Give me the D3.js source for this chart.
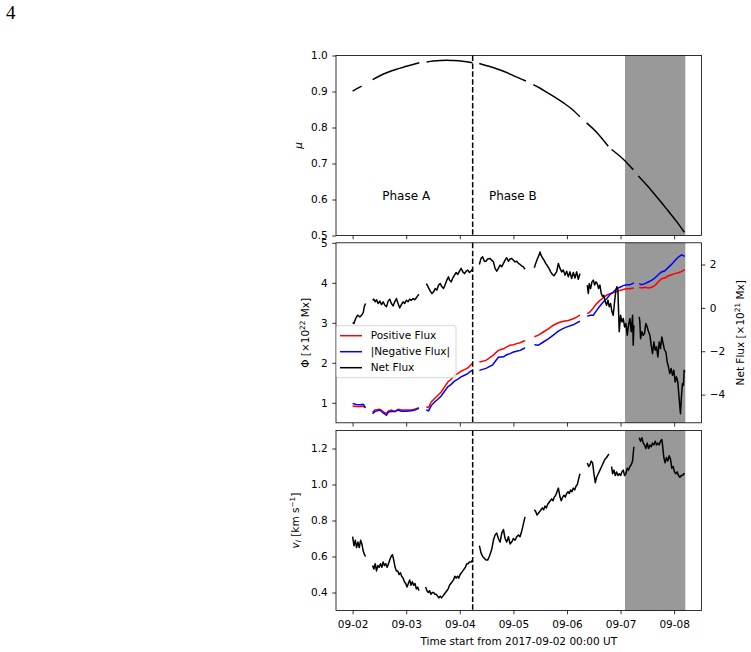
<!DOCTYPE html>
<html><head><meta charset="utf-8">
<script src="https://cdn.jsdelivr.net/npm/d3@7"></script>
<style>
body{margin:0;background:#fff}
svg{display:block}
text{font-family:"DejaVu Sans",sans-serif;fill:#000}
</style>
</head><body>
<svg id="c" width="751" height="652"></svg>
<script>
// ---------------- DATA ----------------
const xTicks = [0, 1, 2, 3, 4, 5, 6];
const xTickLabels = ["09-02", "09-03", "09-04", "09-05", "09-06", "09-07", "09-08"];
const xLabel = "Time start from 2017-09-02 00:00 UT";
const muTicks = [0.5, 0.6, 0.7, 0.8, 0.9, 1.0];
const fluxTicks = [1, 2, 3, 4, 5];
const netTicks = [-4, -2, 0, 2];
const vTicks = [0.4, 0.6, 0.8, 1.0, 1.2];
const phaseLabels = ["Phase A", "Phase B"];
const phaseT = [1.0, 2.99];
const phaseMu = 0.61;
const phaseSplit = 2.24;
const spanT = [5.083, 6.208];
const legendLabels = ["Positive Flux", "|Negative Flux|", "Net Flux"];

// mu (days since 2017-09-02 00:00)
const muT = [0, 0.08, 0.168, null, 0.373, 0.5, 0.634, 0.82, 1.007, 1.244, null,
  1.381, 1.5, 1.629, 1.75, 1.878, 2.05, 2.238, null,
  2.363, 2.52, 2.687, 2.85, 2.998, 3.234, null,
  3.371, 3.5, 3.62, 3.78, 3.93, 4.1, 4.241, null,
  4.366, 4.552, 4.77, null, 4.832, 5.05, 5.236, null,
  5.33, 5.47, 5.61, 5.75, 5.89, 6.04, 6.19];
const muV = [0.901, 0.908, 0.915, null, 0.933, 0.943, 0.952, 0.962, 0.970, 0.980, null,
  0.982, 0.985, 0.986, 0.987, 0.986, 0.984, 0.980, null,
  0.978, 0.971, 0.963, 0.954, 0.944, 0.929, null,
  0.919, 0.909, 0.898, 0.884, 0.869, 0.850, 0.830, null,
  0.813, 0.787, 0.748, null, 0.739, 0.712, 0.683, null,
  0.665, 0.643, 0.619, 0.594, 0.568, 0.540, 0.509];

// Positive / |negative| flux (x 10^22 Mx)
const fluxT = [0, 0.07, 0.14, 0.2, 0.24, null,
  0.372, 0.415, 0.508, 0.57, 0.632, 0.663, 0.724, 0.786, 0.848, 0.91, 1.003, 1.096, 1.158, 1.238, null,
  1.375, 1.418, 1.467, 1.529, 1.591, 1.653, 1.715, 1.777, 1.839, 1.901, 1.963, 2.025, 2.087, 2.149, 2.18, 2.229, null,
  2.365, 2.489, 2.613, 2.72, 2.814, 2.876, 2.938, 3.0, 3.062, 3.124, 3.186, 3.217, null,
  3.391, 3.466, 3.559, 3.652, 3.745, 3.839, 3.932, 4.025, 4.118, 4.18, 4.242, null,
  4.379, 4.429, 4.491, 4.553, 4.615, 4.677, 4.739, 4.801, 4.863, 4.925, 4.988, 5.05, 5.112, 5.174, 5.248, null,
  5.348, 5.391, 5.453, 5.516, 5.578, 5.64, 5.702, 5.764, 5.826, 5.888, 5.95, 6.012, 6.075, 6.137, 6.199];
const posFlux = [0.92, 0.91, 0.91, 0.91, 0.87, null,
  0.76, 0.82, 0.84, 0.78, 0.73, 0.79, 0.82, 0.78, 0.84, 0.82, 0.82, 0.82, 0.84, 0.88, null,
  0.9, 0.88, 1.02, 1.11, 1.19, 1.27, 1.4, 1.52, 1.59, 1.69, 1.73, 1.79, 1.83, 1.87, 1.91, 1.98, null,
  2.02, 2.06, 2.18, 2.31, 2.35, 2.4, 2.44, 2.45, 2.48, 2.5, 2.54, 2.55, null,
  2.65, 2.69, 2.77, 2.85, 2.94, 3.0, 3.04, 3.06, 3.1, 3.14, 3.19, null,
  3.23, 3.27, 3.37, 3.48, 3.56, 3.62, 3.69, 3.73, 3.75, 3.78, 3.81, 3.83, 3.85, 3.85, 3.87, null,
  3.89, 3.87, 3.89, 3.87, 3.89, 3.93, 4.02, 4.1, 4.12, 4.17, 4.2, 4.23, 4.25, 4.28, 4.33];
const negFlux = [0.98, 0.96, 0.95, 0.96, 0.88, null,
  0.73, 0.78, 0.82, 0.75, 0.69, 0.76, 0.79, 0.78, 0.82, 0.79, 0.79, 0.8, 0.82, 0.86, null,
  0.82, 0.8, 0.93, 1.02, 1.09, 1.17, 1.29, 1.4, 1.46, 1.54, 1.59, 1.65, 1.69, 1.73, 1.77, 1.81, null,
  1.81, 1.86, 1.95, 2.14, 2.15, 2.2, 2.23, 2.27, 2.29, 2.31, 2.35, 2.38, null,
  2.45, 2.44, 2.52, 2.6, 2.69, 2.79, 2.86, 2.91, 2.95, 3.0, 3.04, null,
  3.16, 3.19, 3.19, 3.31, 3.42, 3.52, 3.6, 3.7, 3.77, 3.85, 3.89, 3.93, 3.95, 3.95, 4.0, null,
  3.98, 3.95, 3.98, 4.02, 4.06, 4.12, 4.2, 4.27, 4.3, 4.38, 4.46, 4.55, 4.64, 4.70, 4.66];

// Net flux (x 10^21 Mx)
const netT = [0, 0.025, 0.062, 0.093, 0.136, 0.167, 0.198, 0.217, 0.241, null,
  0.372, 0.396, 0.421, 0.446, 0.477, 0.508, 0.539, 0.57, 0.601, 0.632, 0.663, 0.693, 0.724, 0.755, 0.786,
  0.817, 0.848, 0.879, 0.91, 0.941, 0.972, 1.003, 1.034, 1.065, 1.096, 1.127, 1.158, 1.189, 1.22, 1.238, null,
  1.375, 1.393, 1.418, 1.449, 1.48, 1.511, 1.542, 1.573, 1.604, 1.635, 1.666, 1.697, 1.728, 1.759, 1.789,
  1.808, 1.839, 1.87, 1.901, 1.932, 1.963, 1.994, 2.025, 2.056, 2.087, 2.118, 2.149, 2.18, 2.211, 2.229, null,
  2.365, 2.396, 2.427, 2.458, 2.489, 2.52, 2.565, 2.627, 2.658, 2.689, 2.72, 2.752, 2.783, 2.814, 2.845,
  2.876, 2.907, 2.938, 2.969, 3.0, 3.031, 3.062, 3.093, 3.124, 3.155, 3.186, 3.217, null,
  3.391, 3.416, 3.447, 3.478, 3.497, 3.516, 3.54, 3.571, 3.602, 3.634, 3.665, 3.696, 3.727, 3.758, 3.783,
  3.807, 3.839, 3.87, 3.901, 3.932, 3.963, 3.994, 4.025, 4.056, 4.087, 4.118, 4.149, 4.18, 4.211, 4.242, null,
  4.379, 4.398, 4.416, 4.441, 4.466, 4.491, 4.516, 4.54, 4.565, 4.59, 4.615, 4.64, 4.665, 4.689, 4.714,
  4.739, 4.764, 4.789, 4.814, 4.839, 4.863, 4.888, 4.913, 4.932, 4.95, 4.963, 4.975, 5.0, 5.025, 5.05,
  5.075, 5.1, 5.124, 5.149, 5.174, 5.199, 5.224, 5.236, 5.248, null,
  5.348, 5.36, 5.373, 5.398, 5.422, 5.447, 5.472, 5.497, 5.522, 5.547, 5.571, 5.596, 5.621, 5.646, 5.671,
  5.696, 5.72, 5.745, 5.77, 5.795, 5.82, 5.845, 5.87, 5.894, 5.919, 5.944, 5.969, 5.994, 6.019, 6.043,
  6.068, 6.093, 6.118, 6.137, 6.155, 6.174, 6.186, 6.199];
const netV = [-0.68, -0.72, -0.46, -0.34, -0.42, -0.34, -0.22, 0.05, 0.2, null,
  0.35, 0.4, 0.28, 0.37, 0.2, 0.31, 0.15, 0.28, 0.12, 0.05, 0.31, 0.4, 0.2, 0.09, 0.28,
  0.43, 0.2, 0.0, 0.15, 0.28, 0.2, 0.35, 0.28, 0.4, 0.35, 0.43, 0.38, 0.46, 0.58, 0.62, null,
  1.12, 1.05, 0.92, 0.77, 0.66, 0.74, 0.89, 0.82, 1.05, 1.12, 0.97, 0.89, 1.08, 1.28, 1.43,
  1.28, 1.2, 1.38, 1.51, 1.63, 1.54, 1.69, 1.82, 1.66, 1.58, 1.69, 1.74, 1.63, 1.69, 1.77, null,
  2.0, 2.28, 2.35, 2.15, 2.15, 2.25, 2.28, 2.12, 1.82, 1.69, 1.82, 1.97, 1.9, 2.05, 2.2,
  2.31, 2.15, 2.25, 2.28, 2.2, 2.12, 2.15, 2.05, 2.0, 1.94, 1.89, 1.78, null,
  1.85, 2.05, 2.25, 2.43, 2.58, 2.43, 2.31, 2.2, 2.05, 1.94, 1.82, 1.66, 1.54, 1.48, 1.58,
  1.66, 2.05, 1.82, 1.66, 1.74, 1.51, 1.69, 1.43, 1.66, 1.35, 1.63, 1.38, 1.66, 1.32, 1.58, null,
  1.05, 0.66, 1.12, 0.89, 1.2, 1.28, 1.05, 1.2, 1.12, 0.89, 1.05, 0.66, 0.51, 0.58, 0.28,
  0.12, 0.35, 0.05, 0.2, -0.18, -0.34, 0.28, 0.82, 0.97, 0.82, -0.18, -1.1, -0.34, -0.65, -0.49,
  -0.88, -0.72, -1.26, -0.8, -0.49, -1.1, -0.34, -1.72, -0.8, null,
  -0.42, -0.65, -1.42, -1.1, -1.26, -1.18, -0.72, -0.88, -1.1, -1.26, -1.72, -2.11, -1.57, -1.95, -1.8,
  -2.26, -1.57, -1.88, -1.34, -1.65, -1.95, -2.03, -2.49, -2.72, -3.03, -2.8, -3.11, -2.88, -3.42, -3.18,
  -3.42, -4.18, -4.88, -4.03, -3.49, -3.57, -2.88, -2.95];

// v_l (km/s)
const vT = [0, 0.025, 0.05, 0.074, 0.099, 0.124, 0.149, 0.173, 0.198, 0.223, 0.241, null,
  0.372, 0.396, 0.421, 0.446, 0.471, 0.495, 0.52, 0.545, 0.57, 0.594, 0.619, 0.644, 0.669, 0.693, 0.718,
  0.743, 0.768, 0.793, 0.817, 0.842, 0.867, 0.892, 0.916, 0.941, 0.966, 0.991, 1.015, 1.04, 1.065, 1.09,
  1.115, 1.139, 1.164, 1.189, 1.214, 1.238, null,
  1.362, 1.387, 1.412, 1.437, 1.461, 1.486, 1.511, 1.536, 1.56, 1.585, 1.61, 1.635, 1.659, 1.684, 1.709,
  1.734, 1.759, 1.783, 1.808, 1.833, 1.858, 1.882, 1.907, 1.932, 1.957, 1.981, 2.006, 2.031, 2.056, 2.08,
  2.105, 2.13, 2.155, 2.18, 2.211, 2.241, null,
  2.365, 2.396, 2.427, 2.458, 2.489, 2.52, 2.551, 2.596, 2.627, 2.658, 2.689, 2.72, 2.752, 2.783, 2.814,
  2.845, 2.876, 2.907, 2.938, 2.969, 3.0, 3.031, 3.062, 3.093, 3.124, 3.155, 3.186, 3.217, null,
  3.391, 3.416, 3.441, 3.466, 3.491, 3.516, 3.54, 3.565, 3.59, 3.615, 3.64, 3.665, 3.689, 3.714, 3.739,
  3.764, 3.789, 3.814, 3.839, 3.87, 3.894, 3.919, 3.944, 3.969, 3.994, 4.019, 4.043, 4.068, 4.093, 4.118,
  4.143, 4.168, 4.193, 4.217, 4.242, null,
  4.379, 4.404, 4.429, 4.453, 4.478, 4.503, 4.528, 4.553, 4.584, 4.615, 4.646, 4.677, 4.708, 4.739, 4.783, null,
  4.832, 4.851, 4.876, 4.901, 4.925, 4.95, 4.975, 5.0, 5.025, 5.05, 5.075, 5.099, 5.124, 5.149, 5.174,
  5.199, 5.224, 5.248, null,
  5.348, 5.373, 5.398, 5.422, 5.447, 5.472, 5.497, 5.522, 5.547, 5.571, 5.596, 5.621, 5.646, 5.671, 5.696,
  5.72, 5.745, 5.77, 5.783, 5.807, 5.832, 5.857, 5.882, 5.907, 5.932, 5.957, 5.981, 6.006, 6.031, 6.056,
  6.081, 6.106, 6.131, 6.155, 6.18, 6.199];
const vV = [0.71, 0.66, 0.69, 0.65, 0.68, 0.65, 0.69, 0.67, 0.63, 0.61, 0.6, null,
  0.55, 0.53, 0.56, 0.52, 0.55, 0.54, 0.56, 0.54, 0.57, 0.55, 0.56, 0.54, 0.56, 0.58, 0.6,
  0.61, 0.58, 0.54, 0.52, 0.52, 0.5, 0.51, 0.49, 0.48, 0.46, 0.45, 0.43, 0.45, 0.47, 0.44,
  0.46, 0.44, 0.45, 0.42, 0.43, 0.41, null,
  0.43, 0.41, 0.4, 0.41, 0.39, 0.4, 0.4, 0.39, 0.39, 0.38, 0.37, 0.38, 0.37, 0.38, 0.39,
  0.4, 0.41, 0.42, 0.44, 0.45, 0.46, 0.47, 0.49, 0.48, 0.49, 0.48, 0.5, 0.51, 0.52, 0.53,
  0.54, 0.56, 0.56, 0.57, 0.57, 0.58, null,
  0.66, 0.62, 0.6, 0.59, 0.58, 0.58, 0.6, 0.64, 0.69, 0.72, 0.73, 0.7, 0.68, 0.73, 0.75,
  0.7, 0.68, 0.71, 0.67, 0.68, 0.7, 0.69, 0.71, 0.72, 0.71, 0.74, 0.78, 0.82, null,
  0.86, 0.85, 0.83, 0.84, 0.85, 0.86, 0.87, 0.86, 0.88, 0.87, 0.89, 0.9, 0.91, 0.92, 0.91,
  0.93, 0.94, 0.96, 0.98, 0.93, 0.91, 0.93, 0.94, 0.93, 0.95, 0.96, 0.95, 0.97, 0.96, 0.98,
  0.97, 0.99, 1.0, 1.03, 1.06, null,
  1.12, 1.1, 1.11, 1.13, 1.12, 1.06, 1.01, 1.04, 1.06, 1.08, 1.1, 1.12, 1.14, 1.15, 1.17, null,
  1.1, 1.06, 1.08, 1.05, 1.07, 1.05, 1.06, 1.05, 1.07, 1.08, 1.05, 1.06, 1.09, 1.08, 1.1,
  1.11, 1.13, 1.21, null,
  1.26, 1.24, 1.26, 1.23, 1.22, 1.2, 1.23, 1.2, 1.22, 1.21, 1.23, 1.22, 1.24, 1.22, 1.23,
  1.22, 1.24, 1.25, 1.22, 1.15, 1.12, 1.15, 1.13, 1.16, 1.14, 1.09, 1.1, 1.07, 1.06, 1.07,
  1.05, 1.04, 1.05, 1.05, 1.06, 1.06];

// ---------------- LAYOUT ----------------
const svg = d3.select("#c");
const L = 336, R = 701.5;
const P1 = {top: 55.5, bottom: 235.5};
const P2 = {top: 242.8, bottom: 422.8};
const P3 = {top: 430.5, bottom: 610.5};
const FS = 10.5;
const TICK = 3.8, PAD = 4.5;

const x = d3.scaleLinear().domain([-0.31, 6.51]).range([L, R]);
const yMu = d3.scaleLinear().domain([0.5, 1.0]).range([P1.bottom, P1.top]);
const yFlux = d3.scaleLinear().domain([0.5, 5.0]).range([P2.bottom, P2.top]);
const yNet = d3.scaleLinear().domain([-5.3, 3.0]).range([P2.bottom, P2.top]);
const yV = d3.scaleLinear().domain([0.3, 1.3]).range([P3.bottom, P3.top]);

const defs = svg.append("defs");
[P1, P2, P3].forEach((p, i) => {
  defs.append("clipPath").attr("id", "clip" + i).append("rect")
    .attr("x", L).attr("y", p.top).attr("width", R - L).attr("height", p.bottom - p.top);
});

function mkLine(xs, ys, ys2, curve) {
  return d3.line()
    .defined((d, i) => xs[i] != null && ys[i] != null)
    .x((d, i) => x(xs[i]))
    .y((d, i) => ys2(ys[i]))
    .curve(curve || d3.curveLinear)(xs);
}

function styleAxis(g) {
  g.select(".domain").remove();
  g.selectAll(".tick line").attr("stroke", "#000").attr("stroke-width", 0.8);
  g.selectAll(".tick text").attr("font-size", FS).attr("fill", "#000")
    .style("font-family", '"DejaVu Sans",sans-serif');
}

const panels = [P1, P2, P3];
panels.forEach((p, i) => {
  const g = svg.append("g");
  g.append("rect").attr("x", x(spanT[0])).attr("y", p.top)
    .attr("width", x(spanT[1]) - x(spanT[0])).attr("height", p.bottom - p.top)
    .attr("fill", "#999999");
});

// Panel 1 mu line
const c0 = svg.append("g").attr("clip-path", "url(#clip0)");
c0.append("path").attr("d", mkLine(muT, muV, yMu, d3.curveMonotoneX))
  .attr("fill", "none").attr("stroke", "#000").attr("stroke-width", 1.5);

// Panel 2 lines
const c1 = svg.append("g").attr("clip-path", "url(#clip1)");
c1.append("path").attr("d", mkLine(fluxT, posFlux, yFlux))
  .attr("fill", "none").attr("stroke", "#ff0000").attr("stroke-width", 1.5);
c1.append("path").attr("d", mkLine(fluxT, negFlux, yFlux))
  .attr("fill", "none").attr("stroke", "#0000ff").attr("stroke-width", 1.5);
c1.append("path").attr("d", mkLine(netT, netV, yNet))
  .attr("fill", "none").attr("stroke", "#000").attr("stroke-width", 1.5)
  .attr("stroke-linejoin", "round");

// Panel 3 line
const c2 = svg.append("g").attr("clip-path", "url(#clip2)");
c2.append("path").attr("d", mkLine(vT, vV, yV))
  .attr("fill", "none").attr("stroke", "#000").attr("stroke-width", 1.5)
  .attr("stroke-linejoin", "round");

// dashed split line
panels.forEach(p => {
  svg.append("line").attr("x1", x(phaseSplit)).attr("x2", x(phaseSplit))
    .attr("y1", p.top).attr("y2", p.bottom)
    .attr("stroke", "#000").attr("stroke-width", 1.5).attr("stroke-dasharray", "5.5,2.4");
});

// Phase labels
phaseLabels.forEach((t, i) => {
  svg.append("text").attr("x", x(phaseT[i])).attr("y", yMu(phaseMu))
    .attr("text-anchor", "middle").attr("dy", "0.36em").attr("font-size", 12).text(t);
});

// Frames
panels.forEach(p => {
  svg.append("rect").attr("x", L).attr("y", p.top).attr("width", R - L).attr("height", p.bottom - p.top)
    .attr("fill", "none").attr("stroke", "#000").attr("stroke-width", 0.8);
});

// X axes
panels.forEach((p, i) => {
  const ax = d3.axisBottom(x).tickValues(xTicks).tickSize(TICK).tickPadding(PAD + 1.5)
    .tickFormat((d, j) => i === 2 ? xTickLabels[j] : "");
  svg.append("g").attr("transform", `translate(0,${p.bottom})`).call(ax).call(styleAxis);
});

// Y axes
svg.append("g").attr("transform", `translate(${L},0)`)
  .call(d3.axisLeft(yMu).tickValues(muTicks).tickFormat(d3.format(".1f")).tickSize(TICK).tickPadding(PAD))
  .call(styleAxis);
svg.append("g").attr("transform", `translate(${L},0)`)
  .call(d3.axisLeft(yFlux).tickValues(fluxTicks).tickFormat(d3.format("d")).tickSize(TICK).tickPadding(PAD))
  .call(styleAxis);
svg.append("g").attr("transform", `translate(${R},0)`)
  .call(d3.axisRight(yNet).tickValues(netTicks).tickFormat(d3.format("d")).tickSize(TICK).tickPadding(PAD))
  .call(styleAxis);
svg.append("g").attr("transform", `translate(${L},0)`)
  .call(d3.axisLeft(yV).tickValues(vTicks).tickFormat(d3.format(".1f")).tickSize(TICK).tickPadding(PAD))
  .call(styleAxis);

// Axis labels
function ylab(xp, yc) {
  return svg.append("text").attr("transform", `translate(${xp},${yc}) rotate(-90)`)
    .attr("text-anchor", "middle").attr("font-size", FS);
}
ylab(302, (P1.top + P1.bottom) / 2).append("tspan").attr("font-style", "italic").text("μ");
{
  const t = ylab(309, (P2.top + P2.bottom) / 2);
  t.append("tspan").text("Φ [×10");
  t.append("tspan").attr("font-size", FS * 0.7).attr("dy", -4).text("22");
  t.append("tspan").attr("dy", 4).text(" Mx]");
}
{
  const t = ylab(744, (P2.top + P2.bottom) / 2);
  t.append("tspan").text("Net Flux [×10");
  t.append("tspan").attr("font-size", FS * 0.7).attr("dy", -4).text("21");
  t.append("tspan").attr("dy", 4).text(" Mx]");
}
{
  const t = ylab(299, (P3.top + P3.bottom) / 2);
  t.append("tspan").attr("font-style", "italic").text("v");
  t.append("tspan").attr("font-style", "italic").attr("font-size", FS * 0.7).attr("dy", 2).text("l");
  t.append("tspan").attr("dy", -2).text(" [km s");
  t.append("tspan").attr("font-size", FS * 0.7).attr("dy", -4).text("−1");
  t.append("tspan").attr("dy", 4).text("]");
}
svg.append("text").attr("x", (L + R) / 2).attr("y", 645).attr("text-anchor", "middle")
  .attr("font-size", FS).text(xLabel);

// Legend
const lg = svg.append("g");
lg.append("rect").attr("x", 336.5).attr("y", 325.7).attr("width", 119.5).attr("height", 52)
  .attr("rx", 2).attr("fill", "#fff").attr("fill-opacity", 0.8).attr("stroke", "#cccccc").attr("stroke-width", 0.8);
const lgColors = ["#ff0000", "#0000ff", "#000000"];
legendLabels.forEach((lab, i) => {
  const yy = 335.7 + i * 16;
  lg.append("line").attr("x1", 340).attr("x2", 362).attr("y1", yy).attr("y2", yy)
    .attr("stroke", lgColors[i]).attr("stroke-width", 1.5);
  lg.append("text").attr("x", 370.7).attr("y", yy).attr("dy", "0.36em").attr("font-size", FS).text(lab);
});

// Figure number
svg.append("text").attr("x", 6).attr("y", 19).attr("font-size", 19)
  .style("font-family", '"Liberation Serif",serif').text("4");
</script>
</body></html>
